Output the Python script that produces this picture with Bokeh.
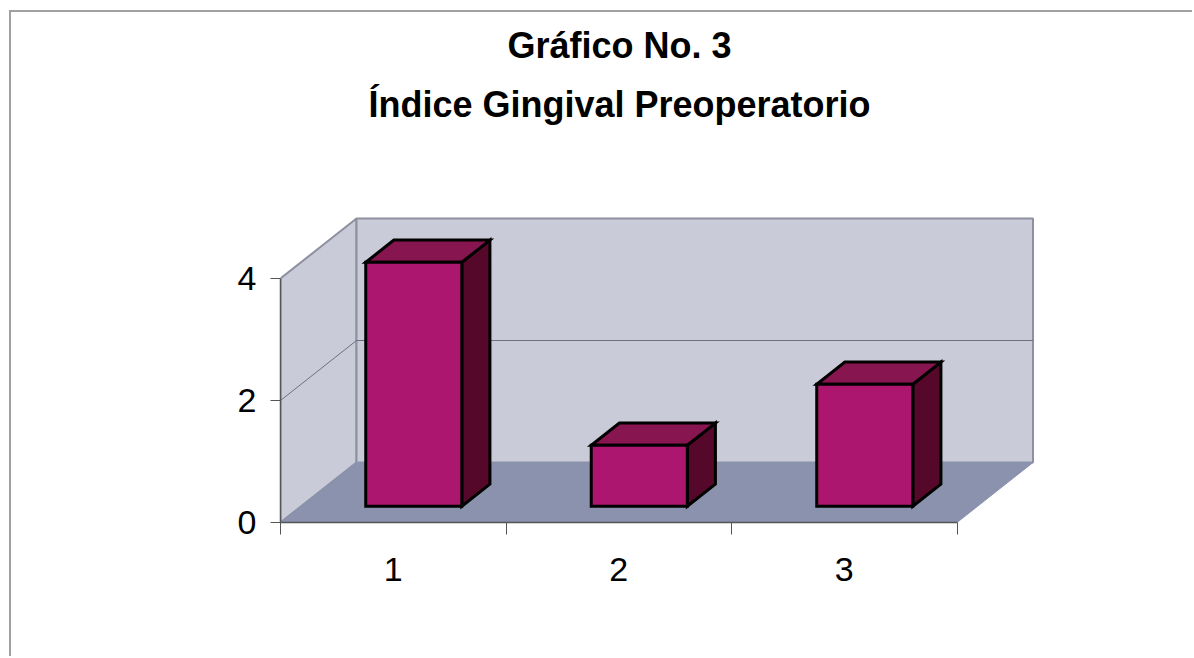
from bokeh.plotting import figure
from bokeh.models import Range1d, FixedTicker
from bokeh.embed import file_html
from bokeh.resources import INLINE
from bokeh.core.properties import value

# ---- data ----
categories = ["1", "2", "3"]
values = [4, 1, 2]
y_ticks = [0, 2, 4]
title_lines = ["Gráfico No. 3", "Índice Gingival Preoperatorio"]

# ---- layout (page pixels) ----
OX, OY = 11, 12            # canvas origin on page (css margin + 2px border)
AX_X, AX_Y = 280, 522      # axis corner on page
PX_X, PX_Y = 225.5, 61.0   # pixels per category / per unit
W, H = 1183, 646
frame_w = W - (AX_X - OX)
frame_h = AX_Y - OY

x_start = 0.5
xr = Range1d(x_start, x_start + frame_w / PX_X)
yr = Range1d(0, frame_h / PX_Y)

p = figure(width=W, height=H, x_range=xr, y_range=yr,
           output_backend="svg", toolbar_location=None,
           min_border_left=AX_X - OX, min_border_right=0,
           min_border_top=0, min_border_bottom=H - frame_h)
p.outline_line_color = None
p.grid.visible = False
p.background_fill_color = "white"
p.border_fill_color = "white"
p.styles = {"margin-top": "10px", "margin-left": "9px",
            "border-top": "2px solid #a0a0a0", "border-left": "2px solid #a0a0a0",
            "border-right": "0px none", "border-bottom": "0px none",
            "outline": "none", "box-shadow": "none"}

n = len(values)
xa, xb = 0.5, n + 0.5
top = max(y_ticks)
DX, DY = 76 / PX_X, 60 / PX_Y

wall = "#c9ccd8"
floor = "#8a92ad"
edge = "#8e90a0"

# left wall, back wall, floor
p.patch([xa, xa + DX, xa + DX, xa], [0, DY, top + DY, top],
        fill_color=wall, line_color=edge, line_width=2)
p.patch([xa + DX, xb + DX, xb + DX, xa + DX], [DY, DY, top + DY, top + DY],
        fill_color=wall, line_color=edge, line_width=2)
p.patch([xa, xb, xb + DX, xa + DX], [0, 0, DY, DY],
        fill_color=floor, line_color=floor, line_width=1)

# gridlines on walls
for t in y_ticks:
    if 0 < t < top:
        p.line([xa, xa + DX, xb + DX], [t, t + DY, t + DY],
               line_color="#6e6e80", line_width=1)

# bars
f0, f1 = 0.27, 0.64
half = 0.213
dxx, dyy = (f1 - f0) * DX, (f1 - f0) * DY
fx, fy, tx, ty, sx, sy = [], [], [], [], [], []
for i, v in enumerate(values):
    c = i + 1
    xl = c - half + f0 * DX
    xrr = c + half + f0 * DX
    yb = f0 * DY
    fx.append([xl, xrr, xrr, xl]); fy.append([yb, yb, v + yb, v + yb])
    tx.append([xl, xrr, xrr + dxx, xl + dxx]); ty.append([v + yb, v + yb, v + yb + dyy, v + yb + dyy])
    sx.append([xrr, xrr + dxx, xrr + dxx, xrr]); sy.append([yb, yb + dyy, v + yb + dyy, v + yb])

p.patches(sx, sy, fill_color="#55082a", line_color="black", line_width=3, line_join="miter")
p.patches(tx, ty, fill_color="#87154f", line_color="black", line_width=3, line_join="miter")
p.patches(fx, fy, fill_color="#ad166e", line_color="black", line_width=3, line_join="miter")

# title
tcx = x_start + (619 - AX_X) / PX_X
p.text(x=[tcx, tcx], y=[(AX_Y - 45) / PX_Y, (AX_Y - 104) / PX_Y], text=title_lines,
       text_font=value("Liberation Sans"), text_font_style="bold",
       text_font_size="36px", text_align="center", text_baseline="alphabetic",
       text_color="black")

# axes
xa_ = p.xaxis[0]
xa_.ticker = FixedTicker(ticks=[1, 2, 3], minor_ticks=[0.5, 1.5, 2.5, 3.5])
xa_.major_label_overrides = {i + 1: c for i, c in enumerate(categories)}
xa_.bounds = (xa, xb)
xa_.major_tick_line_color = None
xa_.major_tick_out = 0
xa_.major_tick_in = 0
xa_.minor_tick_out = 12
xa_.minor_tick_in = 0
xa_.minor_tick_line_color = "#555555"
xa_.axis_line_color = "#555555"
xa_.axis_line_width = 1.5
xa_.major_label_standoff = 23
xa_.major_label_text_font = "Liberation Sans"
xa_.major_label_text_font_size = "34px"
xa_.major_label_text_color = "black"

ya_ = p.yaxis[0]
ya_.ticker = FixedTicker(ticks=y_ticks, minor_ticks=[])
ya_.bounds = (0, top)
ya_.major_tick_out = 10
ya_.major_tick_in = 0
ya_.major_tick_line_color = "#555555"
ya_.axis_line_color = "#555555"
ya_.axis_line_width = 1.5
ya_.major_label_standoff = 14
ya_.major_label_text_font = "Liberation Sans"
ya_.major_label_text_font_size = "34px"
ya_.major_label_text_color = "black"

open("out.html", "w").write(file_html(p, INLINE))
